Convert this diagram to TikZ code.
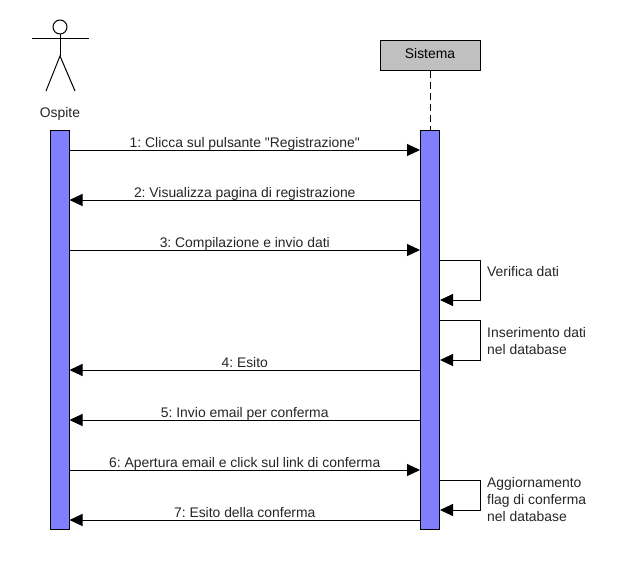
\documentclass[tikz,border=0pt]{standalone}
\usepackage{fontspec}
\setmainfont{Liberation Sans}[Ligatures=TeXOff]
\usetikzlibrary{arrows.meta}
\definecolor{barblue}{HTML}{8080FF}
\definecolor{boxgray}{HTML}{C0C0C0}
\tikzset{
  bar/.style={draw,fill=barblue,line width=1pt,minimum width=19pt,minimum height=399pt,inner sep=0pt},
  msg/.style={line width=1pt,-{Triangle[length=13pt,width=12pt]}},
  lab/.style={font=\fontsize{13.9}{17}\selectfont\frenchspacing,inner sep=0pt,text=black!85},
  msglab/.style={lab,above=0pt,text height=10pt,text depth=2pt},
}
\begin{document}
\begin{tikzpicture}[x=1pt,y=-1pt]
\useasboundingbox (0,0) rectangle (620,560);
\fill[white] (0,0) rectangle (620,560);
% actor
\draw[line width=1pt] (60,27) circle (7pt);
\draw[line width=1pt] (32,38) -- (89,38);
\draw[line width=1pt] (60,34) -- (60,56);
\draw[line width=1pt] (46,91) -- (60,56) -- (75,91);
\node[lab] (guest) at (60,114) {Ospite};
% system
\node[draw,fill=boxgray,line width=1pt,minimum width=100pt,minimum height=30pt,inner sep=0pt,text height=10pt,text depth=4pt,font=\fontsize{13.9}{17}\selectfont] (system) at (430,55) {Sistema};
% activation bars
\node[bar] (guestbar) at (59.5,329.5) {};
\node[bar] (systembar) at (430,329.5) {};
\draw[dashed,line width=1pt,dash pattern=on 7pt off 4pt] (system) -- (systembar);
% messages
\draw[msg] (guestbar.east |- 0,150) -- node[msglab]{1: Clicca sul pulsante "Registrazione"} (systembar.west |- 0,150);
\draw[msg] (systembar.west |- 0,200) -- node[msglab]{2: Visualizza pagina di registrazione} (guestbar.east |- 0,200);
\draw[msg] (guestbar.east |- 0,250) -- node[msglab]{3: Compilazione e invio dati} (systembar.west |- 0,250);
\draw[msg] (systembar.west |- 0,370) -- node[msglab]{4: Esito} (guestbar.east |- 0,370);
\draw[msg] (systembar.west |- 0,420) -- node[msglab]{5: Invio email per conferma} (guestbar.east |- 0,420);
\draw[msg] (guestbar.east |- 0,470) -- node[msglab]{6: Apertura email e click sul link di conferma} (systembar.west |- 0,470);
\draw[msg] (systembar.west |- 0,520) -- node[msglab]{7: Esito della conferma} (guestbar.east |- 0,520);
% self messages
\draw[msg] (systembar.east |- 0,260) -- (480,260) -- (480,300) -- (systembar.east |- 0,300);
\draw[msg] (systembar.east |- 0,320) -- (480,320) -- (480,360) -- (systembar.east |- 0,360);
\draw[msg] (systembar.east |- 0,480) -- (480,480) -- (480,510) -- (systembar.east |- 0,510);
\node[lab,anchor=west,align=left] (check) at (487,272) {Verifica dati};
\node[lab,anchor=west,align=left] (insert) at (487,341) {Inserimento dati\\nel database};
\node[lab,anchor=west,align=left] (update) at (487,500) {Aggiornamento\\flag di conferma\\nel database};
\end{tikzpicture}
\end{document}
